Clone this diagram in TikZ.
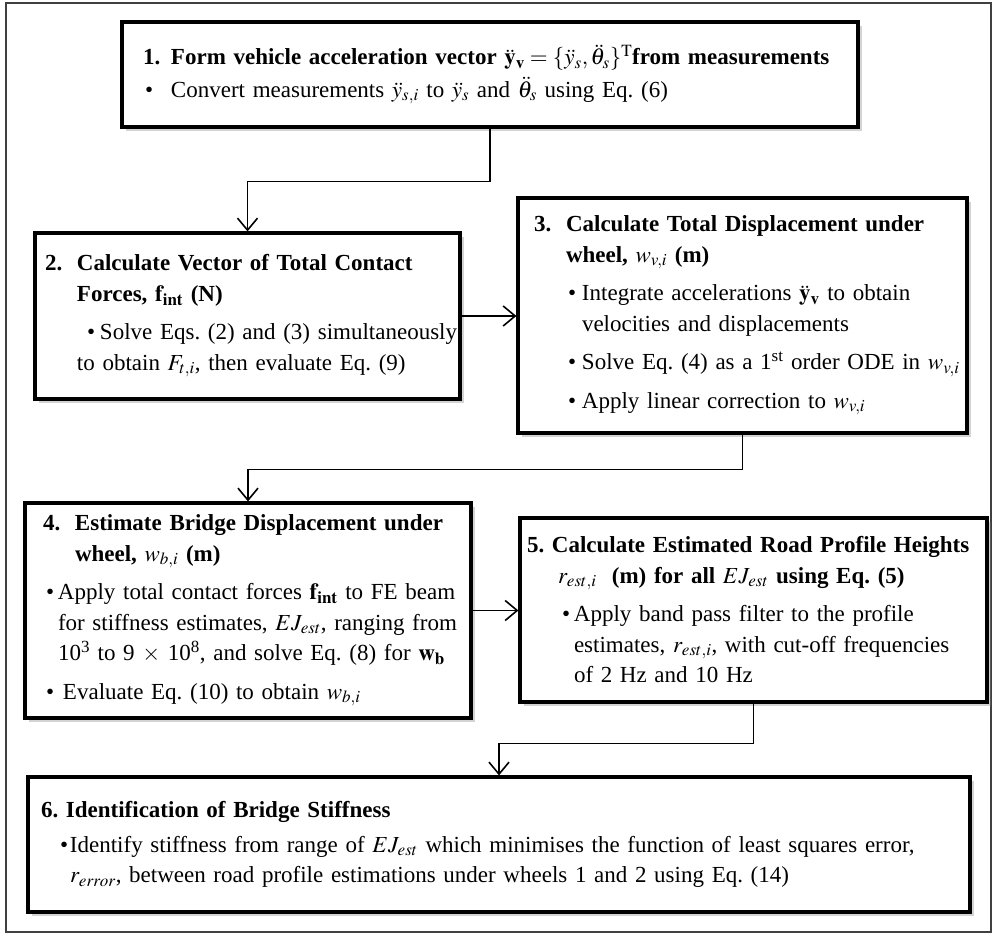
\documentclass[tikz,border=0pt]{standalone}
\usepackage{mathptmx}
\usepackage{fontspec}
\setmainfont{Liberation Serif}
\usetikzlibrary{arrows.meta,shadows}

\newcommand{\boxline}[1]{\mbox{#1}}
\newcommand{\stepnum}[2]{\makebox[#1][l]{#2}}
\newcommand{\blt}[2]{\hspace*{#1}\makebox[#2][l]{\textbullet}}

\begin{document}
\begin{tikzpicture}[x=1pt, y=-1pt,
    stagebox/.style={draw, line width=3.2pt, fill=white, align=left, inner ysep=0pt,
      drop shadow={shadow xshift=4pt, shadow yshift=-4pt, opacity=0.35},
      font=\fontsize{23}{30.5}\selectfont\frenchspacing},
    link/.style={line width=1.6pt, -{Straight Barb[length=12pt, width=20pt]}}]
  \useasboundingbox (0,0) rectangle (995,936);
  \draw[line width=1.5pt, black!75] (6,3) rectangle (991,932);

  \node[stagebox, minimum width=736pt, minimum height=105pt, text width=694pt, inner xsep=21pt]
    (S1) at (490,74.5) {%
    \boxline{\bfseries\stepnum{28pt}{1.}Form vehicle acceleration vector $\ddot{\mathbf{y}}_{\mathbf{v}}=\{\ddot{y}_s,\ddot{\theta}_s\}^{\mathrm{T}}$from measurements}\\[2pt]
    \boxline{\blt{2pt}{26pt}Convert measurements $\ddot{y}_{s,i}$ to $\ddot{y}_s$ and $\ddot{\theta}_s$ using Eq. (6)}};

  \node[stagebox, minimum width=425pt, minimum height=166pt, text width=405pt, inner xsep=10pt]
    (S2) at (247.5,316) {%
    \boxline{\bfseries\stepnum{32pt}{2.}Calculate Vector of Total Contact}\\
    \boxline{\bfseries\hspace*{32pt}Forces, $\mathbf{f}_{\mathbf{int}}$ (N)}\\[8pt]
    \boxline{\blt{42pt}{13pt}Solve Eqs. (2) and (3) simultaneously}\\
    \boxline{\hspace*{32pt}to obtain $F_{t,i}$, then evaluate Eq. (9)}};

  \node[stagebox, minimum width=449pt, minimum height=235pt, text width=417pt, inner xsep=16pt]
    (S3) at (742.5,315.5) {%
    \boxline{\bfseries\stepnum{32pt}{3.}Calculate Total Displacement under}\\
    \boxline{\bfseries\hspace*{32pt}wheel, $w_{v,i}$ (m)}\\[8pt]
    \boxline{\blt{34pt}{14pt}Integrate accelerations $\ddot{\mathbf{y}}_{\mathbf{v}}$ to obtain}\\
    \boxline{\hspace*{48pt}velocities and displacements}\\[8pt]
    \boxline{\blt{34pt}{14pt}Solve Eq. (4) as a 1\textsuperscript{st} order ODE in $w_{v,i}$}\\[8pt]
    \boxline{\blt{34pt}{14pt}Apply linear correction to $w_{v,i}$}};

  \node[stagebox, minimum width=446pt, minimum height=215pt, text width=410pt, inner xsep=18pt]
    (S4) at (248,610.5) {%
    \boxline{\bfseries\stepnum{32pt}{4.}Estimate Bridge Displacement under}\\
    \boxline{\bfseries\hspace*{32pt}wheel, $w_{b,i}$ (m)}\\[8pt]
    \boxline{\blt{3pt}{12pt}Apply total contact forces $\mathbf{f}_{\mathbf{int}}$ to FE beam}\\
    \boxline{\hspace*{15pt}for stiffness estimates, $EJ_{est}$, ranging from}\\
    \boxline{\hspace*{15pt}10\textsuperscript{3} to 9 $\times$ 10\textsuperscript{8}, and solve Eq. (8) for $\mathbf{w}_{\mathbf{b}}$}\\[8pt]
    \boxline{\blt{3pt}{17pt}Evaluate Eq. (10) to obtain $w_{b,i}$}};

  \node[stagebox, minimum width=467pt, minimum height=184pt, text width=453pt, inner xsep=7pt]
    (S5) at (753.5,610) {%
    \boxline{\bfseries 5. Calculate Estimated Road Profile Heights}\\
    \boxline{\bfseries\hspace*{31pt}$r_{est,i}$\ \ (m) for all $EJ_{est}$ using Eq. (5)}\\[8pt]
    \boxline{\blt{35pt}{12pt}Apply band pass filter to the profile}\\
    \boxline{\hspace*{47pt}estimates, $r_{est,i}$, with cut-off frequencies}\\
    \boxline{\hspace*{47pt}of 2 Hz and 10 Hz}};

  \node[stagebox, minimum width=942pt, minimum height=135pt, text width=916pt, inner xsep=13pt]
    (S6) at (499,844.5) {%
    \boxline{\bfseries 6. Identification of Bridge Stiffness}\\[4pt]
    \boxline{\blt{19pt}{10pt}Identify stiffness from range of $EJ_{est}$ which minimises the function of least squares error,}\\
    \boxline{\hspace*{29pt}$r_{error}$, between road profile estimations under wheels 1 and 2 using Eq. (14)}};

  \draw[link] (S1.south) -- ++(0,53) -| (S2.north);
  \draw[link] (S2.east) -- (S2.east -| S3.west);
  \draw[link] (S3.south) -- ++(0,35) -| (S4.north);
  \draw[link] (S4.east) -- (S4.east -| S5.west);
  \draw[link] (S5.south) -- ++(0,40) -| (S6.north);
\end{tikzpicture}
\end{document}
